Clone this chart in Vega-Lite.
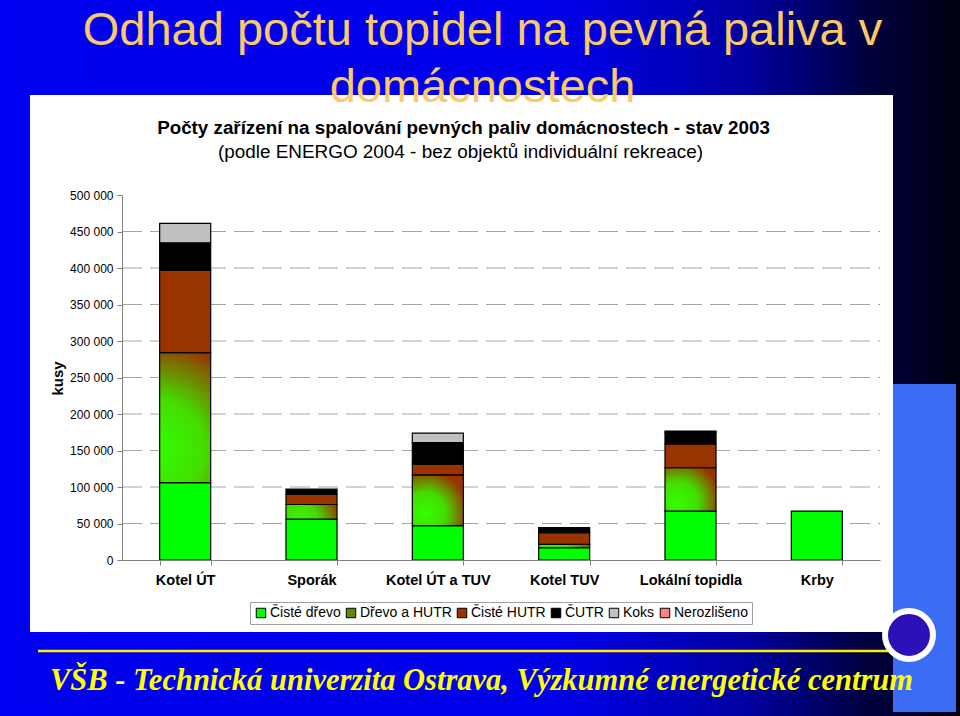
{
  "$schema": "https://vega.github.io/schema/vega-lite/v6.json",
  "width": 960,
  "height": 716,
  "autosize": {"type": "none"},
  "padding": 0,
  "background": "#0000e0",
  "config": {
    "view": {"stroke": null},
    "font": "Liberation Sans",
    "axis": {"grid": false},
    "locale": {"number": {"decimal": ",", "thousands": "\u00a0", "grouping": [3], "currency": ["", " Kč"]}}
  },
  "resolve": {"scale": {"x": "independent", "y": "independent"}},
  "layer": [
    {
      "data": {"values": [{}]},
      "mark": {"type": "rect", "fill": {"gradient": "linear", "x1": 0, "y1": 0, "x2": 1, "y2": 0, "stops": [{"offset": 0, "color": "#0000f2"}, {"offset": 0.58, "color": "#0000ec"}, {"offset": 0.78, "color": "#0000a0"}, {"offset": 0.9, "color": "#000040"}, {"offset": 1, "color": "#000010"}]}, "strokeWidth": 0},
      "encoding": {
        "x": {"datum": 0, "type": "quantitative", "scale": {"domain": [0, 1], "range": [0, 960], "nice": false, "zero": false}, "axis": null},
        "x2": {"datum": 1},
        "y": {"datum": 0, "type": "quantitative", "scale": {"domain": [0, 1], "range": [0, 716], "nice": false, "zero": false}, "axis": null},
        "y2": {"datum": 1}
      }
    },
    {
      "data": {"values": [{}]},
      "mark": {"type": "rect", "fill": "#3b6cf4", "strokeWidth": 0},
      "encoding": {
        "x": {"datum": 0, "type": "quantitative", "scale": {"domain": [0, 1], "range": [893, 956], "nice": false, "zero": false}, "axis": null},
        "x2": {"datum": 1},
        "y": {"datum": 0, "type": "quantitative", "scale": {"domain": [0, 1], "range": [384, 712], "nice": false, "zero": false}, "axis": null},
        "y2": {"datum": 1}
      }
    },
    {
      "data": {"values": [{}]},
      "mark": {"type": "rect", "fill": "#ffffff", "strokeWidth": 0},
      "encoding": {
        "x": {"datum": 0, "type": "quantitative", "scale": {"domain": [0, 1], "range": [30, 893], "nice": false, "zero": false},
          "axis": {"orient": "top", "domain": false, "ticks": false, "labels": false, "zindex": 1,
            "title": "Počty zařízení na spalování pevných paliv domácnostech - stav 2003",
            "titleX": 463, "titleY": 127, "titleAlign": "center", "titleBaseline": "middle", "titleAngle": 0,
            "titleFont": "Liberation Sans", "titleFontSize": 18.8, "titleFontWeight": "bold", "titleColor": "#000000"}},
        "x2": {"datum": 1},
        "y": {"datum": 0, "type": "quantitative", "scale": {"domain": [0, 1], "range": [95, 632], "nice": false, "zero": false},
          "axis": {"orient": "left", "domain": false, "ticks": false, "labels": false, "zindex": 1,
            "title": "(podle ENERGO 2004 - bez objektů individuální rekreace)",
            "titleX": 460, "titleY": 151, "titleAlign": "center", "titleBaseline": "middle", "titleAngle": 0,
            "titleFont": "Liberation Sans", "titleFontSize": 18.9, "titleFontWeight": "normal", "titleColor": "#000000"}},
        "y2": {"datum": 1}
      }
    },
    {
      "data": {"values": [{}]},
      "mark": {"type": "rule", "color": "#ffee00", "strokeWidth": 2.5},
      "encoding": {
        "x": {"datum": 0, "type": "quantitative", "scale": {"domain": [0, 1], "range": [38, 905], "nice": false, "zero": false}, "axis": null},
        "x2": {"datum": 1},
        "y": {"datum": 0, "type": "quantitative", "scale": {"domain": [0, 1], "range": [651, 652], "nice": false, "zero": false},
          "axis": {"orient": "left", "domain": false, "ticks": false, "labels": false, "zindex": 2,
            "title": ["Odhad počtu topidel na pevná paliva v", "domácnostech"],
            "titleX": 482, "titleY": 44, "titleAlign": "center", "titleBaseline": "alphabetic", "titleAngle": 0, "titleLineHeight": 57,
            "titleFont": "Liberation Sans", "titleFontSize": 47, "titleFontWeight": "normal", "titleColor": "#f9c96a"}}
      }
    },
    {
      "data": {"values": [{}]},
      "mark": {"type": "point", "shape": "circle", "filled": true, "fill": "#2d10b8", "stroke": "#ffffff", "strokeWidth": 6, "size": 2300, "opacity": 1},
      "encoding": {
        "x": {"datum": 0, "type": "quantitative", "scale": {"domain": [0, 1], "range": [909, 960], "nice": false, "zero": false}, "axis": null},
        "y": {"datum": 0, "type": "quantitative", "scale": {"domain": [0, 1], "range": [635, 716], "nice": false, "zero": false}, "axis": null}
      }
    },
    {
      "resolve": {"scale": {"x": "independent"}},
      "layer": [
        {
          "data": {"values": [{"g": 50000}, {"g": 100000}, {"g": 150000}, {"g": 200000}, {"g": 250000}, {"g": 300000}, {"g": 350000}, {"g": 400000}, {"g": 450000}]},
          "mark": {"type": "rule", "color": "#a6a6a6", "strokeWidth": 1, "strokeDash": [20, 8]},
          "encoding": {
            "x": {"datum": 0, "type": "quantitative", "scale": {"domain": [0, 1], "range": [122, 880], "nice": false, "zero": false}, "axis": null},
            "x2": {"datum": 1},
            "y": {"field": "g", "type": "quantitative"}
          }
        },
        {
          "data": {"values": [
            {"typ": "Kotel ÚT", "palivo": "Čisté dřevo", "i": 1, "kusy": 106000},
            {"typ": "Kotel ÚT", "palivo": "Dřevo a HUTR", "i": 2, "kusy": 178000},
            {"typ": "Kotel ÚT", "palivo": "Čisté HUTR", "i": 3, "kusy": 113000},
            {"typ": "Kotel ÚT", "palivo": "ČUTR", "i": 4, "kusy": 37500},
            {"typ": "Kotel ÚT", "palivo": "Koks", "i": 5, "kusy": 26500},
            {"typ": "Sporák", "palivo": "Čisté dřevo", "i": 1, "kusy": 56000},
            {"typ": "Sporák", "palivo": "Dřevo a HUTR", "i": 2, "kusy": 20000},
            {"typ": "Sporák", "palivo": "Čisté HUTR", "i": 3, "kusy": 14000},
            {"typ": "Sporák", "palivo": "ČUTR", "i": 4, "kusy": 7000},
            {"typ": "Kotel ÚT a TUV", "palivo": "Čisté dřevo", "i": 1, "kusy": 47000},
            {"typ": "Kotel ÚT a TUV", "palivo": "Dřevo a HUTR", "i": 2, "kusy": 69500},
            {"typ": "Kotel ÚT a TUV", "palivo": "Čisté HUTR", "i": 3, "kusy": 14700},
            {"typ": "Kotel ÚT a TUV", "palivo": "ČUTR", "i": 4, "kusy": 29700},
            {"typ": "Kotel ÚT a TUV", "palivo": "Koks", "i": 5, "kusy": 12800},
            {"typ": "Kotel TUV", "palivo": "Čisté dřevo", "i": 1, "kusy": 16800},
            {"typ": "Kotel TUV", "palivo": "Dřevo a HUTR", "i": 2, "kusy": 4700},
            {"typ": "Kotel TUV", "palivo": "Čisté HUTR", "i": 3, "kusy": 15900},
            {"typ": "Kotel TUV", "palivo": "ČUTR", "i": 4, "kusy": 6900},
            {"typ": "Lokální topidla", "palivo": "Čisté dřevo", "i": 1, "kusy": 67000},
            {"typ": "Lokální topidla", "palivo": "Dřevo a HUTR", "i": 2, "kusy": 59400},
            {"typ": "Lokální topidla", "palivo": "Čisté HUTR", "i": 3, "kusy": 32500},
            {"typ": "Lokální topidla", "palivo": "ČUTR", "i": 4, "kusy": 16000},
            {"typ": "Lokální topidla", "palivo": "Koks", "i": 5, "kusy": 1700},
            {"typ": "Krby", "palivo": "Čisté dřevo", "i": 1, "kusy": 67000}
          ]},
          "mark": {"type": "bar", "stroke": "#000000", "strokeWidth": 1.2},
          "encoding": {
            "x": {"field": "typ", "type": "nominal",
              "sort": ["Kotel ÚT", "Sporák", "Kotel ÚT a TUV", "Kotel TUV", "Lokální topidla", "Krby"],
              "scale": {"range": [122, 880], "paddingInner": 0.596, "paddingOuter": 0.298},
              "axis": {"orient": "bottom", "offset": -156, "zindex": 2, "labelAngle": 0,
                "labelFont": "Liberation Sans", "labelFontSize": 14.5, "labelFontWeight": "bold", "labelColor": "#000000", "labelPadding": 8,
                "tickBand": "extent", "tickSize": 5, "tickColor": "#808080", "domainColor": "#808080",
                "title": "VŠB - Technická univerzita Ostrava, Výzkumné energetické centrum",
                "titleX": 481, "titleY": 129, "titleAlign": "center", "titleBaseline": "alphabetic", "titleAngle": 0,
                "titleFont": "Liberation Serif", "titleFontSize": 30.5, "titleFontWeight": "bold", "titleFontStyle": "italic", "titleColor": "#ffff00"}},
            "y": {"field": "kusy", "type": "quantitative", "stack": "zero",
              "scale": {"domain": [0, 500000], "range": [560, 195], "nice": false, "zero": true},
              "axis": {"orient": "left", "offset": -122, "zindex": 2, "values": [0, 50000, 100000, 150000, 200000, 250000, 300000, 350000, 400000, 450000, 500000],
                "format": ",d", "labelFont": "Liberation Sans", "labelFontSize": 12, "labelColor": "#000000", "labelPadding": 4,
                "tickSize": 5, "tickColor": "#808080", "domainColor": "#808080",
                "title": "kusy", "titleX": -65, "titleY": 378, "titleAlign": "center", "titleBaseline": "middle", "titleAngle": 270,
                "titleFont": "Liberation Sans", "titleFontSize": 15, "titleFontWeight": "bold", "titleColor": "#000000"}},
            "fill": {"field": "palivo", "type": "nominal",
              "condition": {"test": "datum.palivo === 'Dřevo a HUTR'", "value": {"gradient": "radial", "x1": 0.25, "y1": 0.75, "r1": 0, "x2": 0.25, "y2": 0.75, "r2": 1.0, "stops": [{"offset": 0, "color": "#33ff00"}, {"offset": 0.4, "color": "#44dd00"}, {"offset": 0.85, "color": "#993300"}, {"offset": 1, "color": "#993300"}]}},
              "scale": {"domain": ["Čisté dřevo", "Dřevo a HUTR", "Čisté HUTR", "ČUTR", "Koks", "Nerozlišeno"],
                "range": ["#00ff00", "#5c8a00", "#993300", "#000000", "#c0c0c0", "#ff8080"]},
              "legend": {"orient": "none", "legendX": 250, "legendY": 602, "direction": "horizontal", "columns": 6, "title": null,
                "padding": 4, "fillColor": "#ffffff", "strokeColor": "#a0a0a0", "zindex": 2,
                "symbolType": "square", "symbolSize": 90, "symbolStrokeColor": "#000000", "symbolStrokeWidth": 1,
                "labelFont": "Liberation Sans", "labelFontSize": 14, "labelColor": "#000000", "columnPadding": 3, "labelOffset": 2}},
            "order": {"field": "i", "type": "quantitative"}
          }
        }
      ]
    }
  ]
}
